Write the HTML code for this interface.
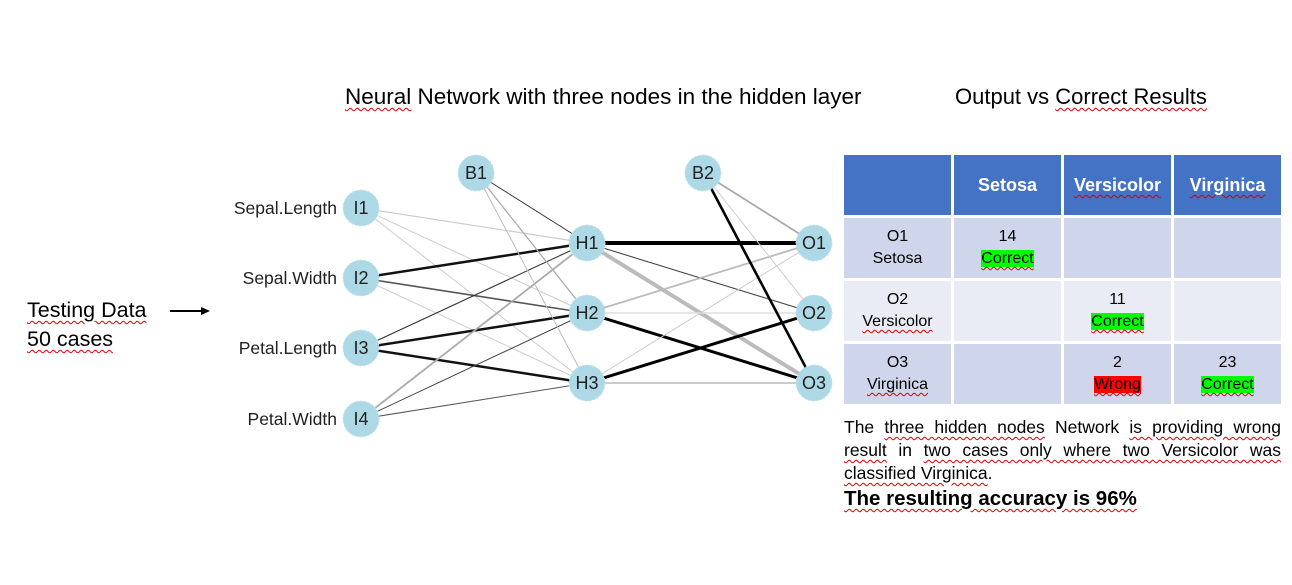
<!DOCTYPE html>
<html><head><meta charset="utf-8"><style>
body{margin:0;width:1292px;height:585px;background:#fff;position:relative;overflow:hidden;font-family:"Liberation Sans",Arial,sans-serif}
.t{position:absolute;white-space:nowrap}
.sq{text-decoration:underline wavy #d00;text-decoration-thickness:1px;text-underline-offset:3px}
table{position:absolute;left:841px;top:152px;border-collapse:separate;border-spacing:3px;font-size:16px;text-align:center;table-layout:fixed;width:443px}
td{padding:0;line-height:22px}
.h{background:#4472c4;color:#fff;font-weight:bold;font-size:18px;height:60px}
.r1{background:#cfd5ea;height:60px}.r2{background:#e9ebf5;height:60px}
.g{background:#00ff00}.rd{background:#ff0000}
</style></head><body>
<div class="t" style="left:345px;top:84px;font-size:22.5px"><span class="sq">Neural</span> Network with three nodes in the hidden layer</div>
<div class="t" style="left:955px;top:84px;font-size:22px">Output vs <span class="sq">Correct Results</span></div>
<div class="t" style="left:27px;top:296px;font-size:21.5px;line-height:29px"><span class="sq">Testing Data</span><br><span class="sq">50 cases</span></div>
<svg style="position:absolute;left:0;top:0" width="1292" height="585">
<line x1="170" y1="311" x2="203" y2="311" stroke="#000" stroke-width="2"/><polygon points="210,311 201,307 201,315" fill="#000"/>
<g stroke-linecap="round">
<line x1="361" y1="208" x2="587" y2="243" stroke="#ccc" stroke-width="1.2"/>
<line x1="361" y1="208" x2="587" y2="313" stroke="#ccc" stroke-width="1"/>
<line x1="361" y1="208" x2="587" y2="383" stroke="#ccc" stroke-width="1"/>
<line x1="361" y1="278" x2="587" y2="243" stroke="#111" stroke-width="2.5"/>
<line x1="361" y1="278" x2="587" y2="313" stroke="#555" stroke-width="1.6"/>
<line x1="361" y1="278" x2="587" y2="383" stroke="#ccc" stroke-width="1"/>
<line x1="361" y1="348" x2="587" y2="243" stroke="#333" stroke-width="1.1"/>
<line x1="361" y1="348" x2="587" y2="313" stroke="#111" stroke-width="2.5"/>
<line x1="361" y1="348" x2="587" y2="383" stroke="#111" stroke-width="2.5"/>
<line x1="361" y1="419" x2="587" y2="243" stroke="#aaa" stroke-width="1.8"/>
<line x1="361" y1="419" x2="587" y2="313" stroke="#444" stroke-width="1"/>
<line x1="361" y1="419" x2="587" y2="383" stroke="#555" stroke-width="1"/>
<line x1="476" y1="173" x2="587" y2="243" stroke="#333" stroke-width="1"/>
<line x1="476" y1="173" x2="587" y2="313" stroke="#aaa" stroke-width="1.3"/>
<line x1="476" y1="173" x2="587" y2="383" stroke="#bbb" stroke-width="1"/>
<line x1="587" y1="243" x2="814" y2="243" stroke="#000" stroke-width="4"/>
<line x1="587" y1="243" x2="814" y2="313" stroke="#444" stroke-width="1.1"/>
<line x1="587" y1="243" x2="814" y2="383" stroke="#bbb" stroke-width="4"/>
<line x1="587" y1="313" x2="814" y2="243" stroke="#bbb" stroke-width="1.8"/>
<line x1="587" y1="313" x2="814" y2="313" stroke="#ddd" stroke-width="1.5"/>
<line x1="587" y1="313" x2="814" y2="383" stroke="#000" stroke-width="3"/>
<line x1="587" y1="383" x2="814" y2="243" stroke="#ccc" stroke-width="1"/>
<line x1="587" y1="383" x2="814" y2="313" stroke="#000" stroke-width="3"/>
<line x1="587" y1="383" x2="814" y2="383" stroke="#ccc" stroke-width="2"/>
<line x1="703" y1="173" x2="814" y2="243" stroke="#aaa" stroke-width="1.8"/>
<line x1="703" y1="173" x2="814" y2="313" stroke="#ccc" stroke-width="1"/>
<line x1="703" y1="173" x2="814" y2="383" stroke="#000" stroke-width="2.6"/>
</g>
<g fill="#add8e6" stroke="#c5e3ee" stroke-width="1" stroke-dasharray="2 2">
<circle cx="361" cy="208" r="18"/><circle cx="361" cy="278" r="18"/><circle cx="361" cy="348" r="18"/><circle cx="361" cy="419" r="18"/>
<circle cx="476" cy="173" r="18"/><circle cx="703" cy="173" r="18"/>
<circle cx="587" cy="243" r="18"/><circle cx="587" cy="313" r="18"/><circle cx="587" cy="383" r="18"/>
<circle cx="814" cy="243" r="18"/><circle cx="814" cy="313" r="18"/><circle cx="814" cy="383" r="18"/>
</g>
<g font-family="Liberation Sans,sans-serif" font-size="18" fill="#222" text-anchor="middle">
<text x="361" y="214">I1</text><text x="361" y="284">I2</text><text x="361" y="354">I3</text><text x="361" y="425">I4</text>
<text x="476" y="179">B1</text><text x="703" y="179">B2</text>
<text x="587" y="249">H1</text><text x="587" y="319">H2</text><text x="587" y="389">H3</text>
<text x="814" y="249">O1</text><text x="814" y="319">O2</text><text x="814" y="389">O3</text>
</g>
<g font-family="Liberation Sans,sans-serif" font-size="17.5" fill="#222" text-anchor="end">
<text x="337" y="214">Sepal.Length</text><text x="337" y="284">Sepal.Width</text><text x="337" y="354">Petal.Length</text><text x="337" y="425">Petal.Width</text>
</g>
</svg>
<table>
<tr><td class="h"></td><td class="h">Setosa</td><td class="h"><span class="sq">Versicolor</span></td><td class="h"><span class="sq">Virginica</span></td></tr>
<tr><td class="r1">O1<br>Setosa</td><td class="r1">14<br><span class="g sq">Correct</span></td><td class="r1"></td><td class="r1"></td></tr>
<tr><td class="r2">O2<br><span class="sq">Versicolor</span></td><td class="r2"></td><td class="r2">11<br><span class="g sq">Correct</span></td><td class="r2"></td></tr>
<tr><td class="r1">O3<br><span class="sq">Virginica</span></td><td class="r1"></td><td class="r1">2<br><span class="rd sq">Wrong</span></td><td class="r1">23<br><span class="g sq">Correct</span></td></tr>
</table>
<div class="t" style="left:844px;top:416px;width:437px;white-space:normal;font-size:17.5px;line-height:23px;text-align:justify">The <span class="sq">three hidden nodes</span> Network <span class="sq">is providing wrong result</span> in <span class="sq">two cases only where two Versicolor was</span> <span class="sq">classified Virginica</span>.</div>
<div class="t" style="left:844px;top:487px;font-size:20.5px;font-weight:bold"><span class="sq">The resulting accuracy is 96%</span></div>
</body></html>
